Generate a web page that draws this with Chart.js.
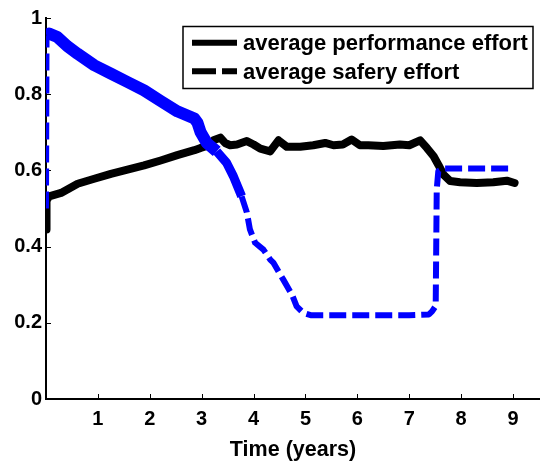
<!DOCTYPE html>
<html>
<head>
<meta charset="utf-8">
<script src="https://cdn.jsdelivr.net/npm/chart.js@4.4.1/dist/chart.umd.min.js"></script>
<style>
  html, body { margin: 0; padding: 0; background: #fff; }
  #wrap { width: 540px; height: 463px; }
</style>
</head>
<body>
<div id="wrap"><canvas id="effortChart" width="540" height="463"></canvas></div>
<script>
// time in years, effort as a fraction
const perfTime = [0, 0.01, 0.06, 0.29, 0.61, 0.93, 1.25, 1.57, 1.89, 2.21, 2.53, 2.86, 2.98, 3.10,
  3.23, 3.36, 3.45, 3.55, 3.68, 3.87, 4.00, 4.13, 4.32, 4.48, 4.64, 4.90, 5.15, 5.38, 5.54, 5.72,
  5.89, 6.05, 6.21, 6.50, 6.82, 7.00, 7.21, 7.34, 7.47, 7.56, 7.66, 7.79, 7.98, 8.30, 8.62, 8.88, 9.03];
const perfEffort = [0.445, 0.52, 0.532, 0.541, 0.565, 0.578, 0.591, 0.602, 0.613, 0.626, 0.640, 0.653, 0.659, 0.664,
  0.679, 0.686, 0.672, 0.666, 0.668, 0.677, 0.668, 0.657, 0.650, 0.679, 0.662, 0.662, 0.666, 0.672, 0.666, 0.668,
  0.681, 0.666, 0.666, 0.664, 0.668, 0.666, 0.679, 0.659, 0.637, 0.615, 0.589, 0.572, 0.569, 0.567, 0.569, 0.573, 0.567];

const safetyTime = [0, 0.01, 0.06, 0.22, 0.41, 0.61, 0.93, 1.25, 1.57, 1.89, 2.21, 2.53, 2.86, 2.92, 2.98,
  3.10, 3.29, 3.48, 3.61, 3.77, 3.87, 3.93, 4.03, 4.19, 4.32, 4.38, 4.57, 4.74, 4.83, 4.96, 5.10, 5.50,
  6.00, 6.50, 7.00, 7.38, 7.44, 7.51, 7.53, 7.56, 7.65, 9.02];
const safetyEffort = [0.50, 0.955, 0.959, 0.950, 0.926, 0.906, 0.876, 0.854, 0.832, 0.810, 0.782, 0.755, 0.736, 0.725, 0.70,
  0.672, 0.65, 0.62, 0.585, 0.532, 0.49, 0.445, 0.41, 0.392, 0.366, 0.358, 0.314, 0.274, 0.243, 0.226, 0.22, 0.22,
  0.22, 0.22, 0.22, 0.222, 0.23, 0.244, 0.55, 0.598, 0.605, 0.605];

const xTicks = [1, 2, 3, 4, 5, 6, 7, 8, 9];
const yTicks = [0, 0.2, 0.4, 0.6, 0.8, 1];
const yTickLabels = ['0', '0.2', '0.4', '0.6', '0.8', '1'];

const FONT = '"Liberation Sans", Arial, Helvetica, sans-serif';

function toPoints(xs, ys) {
  return xs.map((x, i) => ({ x: x, y: ys[i] }));
}

// the early part of the safety run is very noisy, so it reads as a thick solid band
function inBand(c) {
  return c.p0.parsed.x >= 0.01 && c.p1.parsed.x <= 3.77;
}

// matlab style ticks that point into the plot
const innerTicks = {
  id: 'innerTicks',
  beforeDatasetsDraw(chart) {
    const c = chart.ctx;
    const xs = chart.scales.x, ys = chart.scales.y;
    const area = chart.chartArea;
    c.save();
    c.strokeStyle = '#000';
    c.lineWidth = 1;
    xs.ticks.forEach(t => {
      const px = Math.round(xs.getPixelForValue(t.value)) + 0.5;
      c.beginPath(); c.moveTo(px, area.bottom); c.lineTo(px, area.bottom - 5); c.stroke();
    });
    ys.ticks.forEach(t => {
      const py = Math.round(ys.getPixelForValue(t.value)) + 0.5;
      c.beginPath(); c.moveTo(area.left, py); c.lineTo(area.left + 5, py); c.stroke();
    });
    c.restore();
  }
};

// boxed legend in the upper right of the plot
const boxLegend = {
  id: 'boxLegend',
  afterDraw(chart) {
    const c = chart.ctx;
    c.save();
    c.fillStyle = '#fff';
    c.fillRect(183, 26.5, 350, 62);
    c.strokeStyle = '#000';
    c.lineWidth = 1.5;
    c.strokeRect(183, 26.5, 350, 62);
    chart.data.datasets.forEach((ds, i) => {
      const y = 42.7 + i * 28.5;
      c.beginPath();
      c.setLineDash(ds.borderDash ? [24, 6] : []);
      c.lineWidth = 6;
      c.strokeStyle = '#000';
      c.moveTo(192, y);
      c.lineTo(237, y);
      c.stroke();
      c.setLineDash([]);
      c.fillStyle = '#000';
      c.font = 'bold 22px ' + FONT;
      c.textBaseline = 'alphabetic';
      c.fillText(ds.label, 243, y + 7.5);
    });
    c.restore();
  }
};

const ctx = document.getElementById('effortChart').getContext('2d');

const effortChart = new Chart(ctx, {
  type: 'line',
  data: {
    datasets: [
      {
        label: 'average performance effort',
        data: toPoints(perfTime, perfEffort),
        borderColor: '#000',
        borderWidth: 8,
        pointRadius: 0,
        tension: 0,
        borderJoinStyle: 'round',
        borderCapStyle: 'round',
        order: 1
      },
      {
        label: 'average safery effort',
        data: toPoints(safetyTime, safetyEffort),
        borderColor: '#0000ff',
        borderWidth: 6,
        borderDash: [17, 6],
        pointRadius: 0,
        tension: 0,
        borderJoinStyle: 'round',
        order: 0,
        segment: {
          borderWidth: c => inBand(c) ? (c.p0.parsed.x < 3.29 ? 12 : 9) : 6,
          borderDash: c => inBand(c) ? [] : [17, 6]
        }
      }
    ]
  },
  options: {
    responsive: false,
    animation: false,
    devicePixelRatio: 1,
    layout: { padding: { top: 18, right: 0, left: 0, bottom: 0 } },
    plugins: {
      legend: { display: false },
      tooltip: { enabled: false }
    },
    scales: {
      x: {
        type: 'linear',
        min: 0,
        max: 9.52,
        grid: { display: false, drawTicks: false },
        border: { display: true, color: '#000', width: 2 },
        afterBuildTicks: s => { s.ticks = xTicks.map(v => ({ value: v })); },
        afterFit: s => { s.height = 64; },
        ticks: {
          padding: 8,
          color: '#000',
          autoSkip: false,
          maxRotation: 0,
          font: { family: FONT, size: 20, weight: 'bold' },
          callback: v => String(v)
        },
        title: {
          display: true,
          text: 'Time (years)',
          color: '#000',
          font: { family: FONT, size: 21.5, weight: 'bold' },
          padding: { top: 0, bottom: 0 }
        }
      },
      y: {
        min: 0,
        max: 1,
        grid: { display: false, drawTicks: false },
        border: { display: true, color: '#000', width: 2 },
        afterBuildTicks: s => { s.ticks = yTicks.map(v => ({ value: v })); },
        afterFit: s => { s.width = 46; },
        ticks: {
          padding: 4,
          color: '#000',
          font: { family: FONT, size: 20, weight: 'bold' },
          callback: (v, i) => yTickLabels[i]
        }
      }
    }
  },
  plugins: [innerTicks, boxLegend]
});
</script>
</body>
</html>
